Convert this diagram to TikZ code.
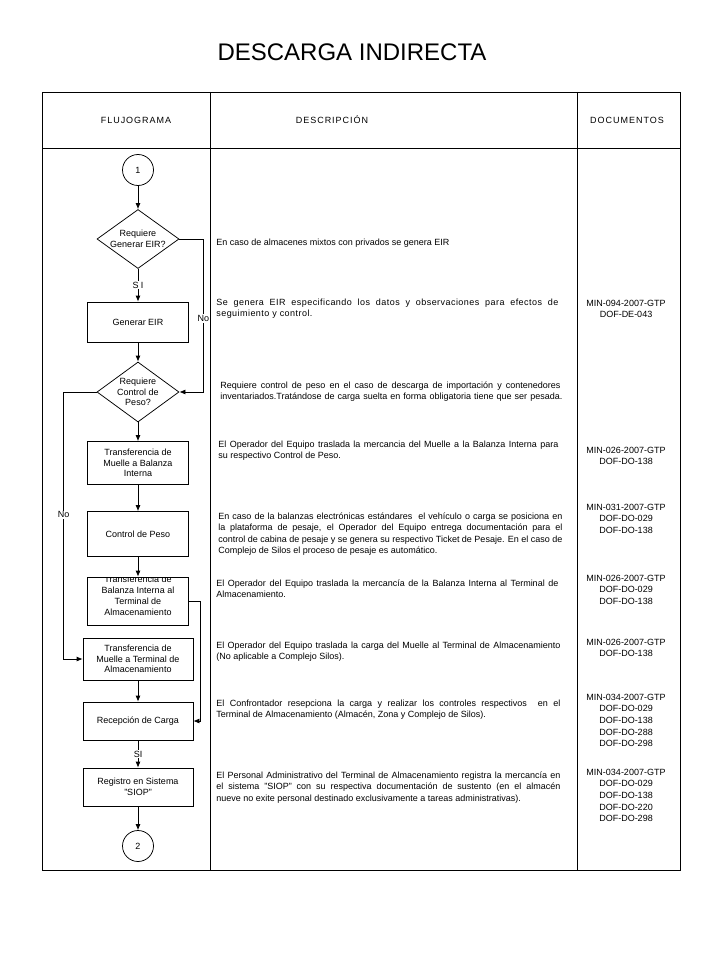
\documentclass[tikz,border=0pt]{standalone}
\usepackage{fontspec}
\setmainfont{Liberation Sans}
\newfontfamily\spacedfont[LetterSpace=5]{Liberation Sans}
\newfontfamily\headfont[LetterSpace=11]{Liberation Sans}
\usetikzlibrary{shapes.geometric,arrows.meta}
\newcommand{\fs}{\fontsize{9}{10.5}\selectfont}
\newcommand{\ds}{\fontsize{9}{11.3}\selectfont}
\newcommand{\jl}[2][344pt]{\makebox[#1][s]{#2}}
\tikzstyle{block} = [rectangle, draw, fill=white, minimum width=101pt,
    minimum height=44pt, align=center, font=\fs, inner sep=1pt]
\tikzstyle{wide} = [block, minimum width=110pt]
\tikzstyle{decision} = [diamond, draw, fill=white, minimum width=82pt,
    minimum height=59pt, inner sep=0pt]
\tikzstyle{dtext} = [align=center, font=\fs, inner sep=0pt]
\tikzstyle{conn} = [circle, draw, minimum size=31pt, inner sep=0pt, font=\fs]
\tikzstyle{line} = [draw, -{Latex[length=6pt,width=5pt]}]
\tikzstyle{tag} = [fill=white, inner sep=1pt, font=\fs]
\tikzstyle{desc} = [anchor=north west, align=left, inner sep=0pt, font=\ds]
\tikzstyle{docs} = [anchor=north, align=center, inner sep=0pt,
    font=\fontsize{9}{11.7}\selectfont]
\tikzstyle{head} = [font=\headfont\fontsize{9}{11}\selectfont]

\begin{document}
\begin{tikzpicture}[x=1pt,y=-1pt,line width=0.75pt]
    \useasboundingbox (0,0) rectangle (720,960);
    % Title and table
    \node[font=\fontsize{24}{28}\selectfont] (title) at (352,52) {DESCARGA INDIRECTA};
    \draw (42,92) rectangle (680,870);
    \draw (42,148) -- (680,148);
    \draw (210,92) -- (210,870);
    \draw (577,92) -- (577,870);
    \node[head] (hflujo) at (136,120) {FLUJOGRAMA};
    \node[head] (hdesc) at (332,120) {DESCRIPCIÓN};
    \node[head] (hdocs) at (627,120) {DOCUMENTOS};
    % Place nodes
    \node [conn] (c1) at (138,170) {1};
    \node [decision, below of=c1, node distance=69pt,
        label={[dtext]center:{Requiere\\Generar EIR?}}] (d1) {};
    \node [block, below of=d1, node distance=83pt, minimum height=40pt] (gen) {Generar EIR};
    \node [decision, below of=gen, node distance=70pt, minimum height=60pt,
        label={[dtext]center:{Requiere\\Control de\\Peso?}}] (d2) {};
    \node [block, below of=d2, node distance=71pt, minimum height=43pt] (tmb)
        {Transferencia de\\Muelle a Balanza\\Interna};
    \node [block, below of=tmb, node distance=71pt, minimum height=45pt] (cp) {Control de Peso};
    \node [block, below of=cp, node distance=67pt, minimum height=48pt,
        path picture={\node[font=\fontsize{9}{11}\selectfont, align=center, inner sep=0pt,
            draw=none, fill=none, minimum width=0pt, minimum height=0pt] (tbttext)
            at ([yshift=5pt]path picture bounding box.center)
            {Transferencia de\\Balanza Interna al\\Terminal de\\Almacenamiento};}] (tbt) {};
    \node [wide, below of=tbt, node distance=58pt, minimum height=42pt] (tmt)
        {Transferencia de\\Muelle a Terminal de\\Almacenamiento};
    \node [wide, below of=tmt, node distance=62pt, minimum height=38pt] (rec) {Recepción de Carga};
    \node [wide, below of=rec, node distance=66pt, minimum height=38pt] (reg)
        {Registro en Sistema\\"SIOP"};
    \node [conn, below of=reg, node distance=59pt] (c2) {2};
    % Draw edges
    \path [line] (c1) -- (d1);
    \path [line] (d1) -- node[tag] {S I} (gen);
    \path [line] (d1.east) -- ++(24,0) |- node[tag, pos=0.26] {No} (d2.east);
    \path [line] (gen) -- (d2);
    \path [line] (d2) -- (tmb);
    \path [line] (d2.west) -- ++(-33,0) |- node[tag, pos=0.23] {No} (tmt.west);
    \path [line] (tmb) -- (cp);
    \path [line] (cp) -- (tbt);
    \path [line] (tbt.east) -- ++(11,0) |- (rec.east);
    \path [line] (tmt) -- (rec);
    \path [line] (rec) -- node[tag] {SI} (reg);
    \path [line] (reg) -- (c2);
    % Descriptions
    \node [desc] (p1) at (216,238.5) {En caso de almacenes mixtos con privados se genera EIR};
    \node [desc, font=\spacedfont\ds] (p2) at (216,298.5)
        {\jl[342pt]{Se genera EIR especificando los datos y observaciones para efectos de}\\
        seguimiento y control.};
    \node [desc] (p3) at (220,381.5)
        {\jl[340pt]{Requiere control de peso en el caso de descarga de importación y contenedores}\\
        \jl[342pt]{inventariados.Tratándose de carga suelta en forma obligatoria tiene que ser pesada.}};
    \node [desc] (p4) at (218,440.5)
        {\jl[340pt]{El Operador del Equipo traslada la mercancia del Muelle a la Balanza Interna para}\\
        su respectivo Control de Peso.};
    \node [desc] (p5) at (218,512.5)
        {\jl{En caso de la balanzas electrónicas estándares \ el vehículo o carga se posiciona en}\\
        \jl{la plataforma de pesaje, el Operador del Equipo entrega documentación para el}\\
        \jl{control de cabina de pesaje y se genera su respectivo Ticket de Pesaje. En el caso de}\\
        Complejo de Silos el proceso de pesaje es automático.};
    \node [desc] (p6) at (216,579.5)
        {\jl[342pt]{El Operador del Equipo traslada la mercancía de la Balanza Interna al Terminal de}\\
        Almacenamiento.};
    \node [desc] (p7) at (216,641.5)
        {\jl{El Operador del Equipo traslada la carga del Muelle al Terminal de Almacenamiento}\\
        (No aplicable a Complejo Silos).};
    \node [desc] (p8) at (216,699.5)
        {\jl{El Confrontador resepciona la carga y realizar los controles respectivos \ en el}\\
        Terminal de Almacenamiento (Almacén, Zona y Complejo de Silos).};
    \node [desc] (p9) at (216,771.5)
        {\jl{El Personal Administrativo del Terminal de Almacenamiento registra la mercancía en}\\
        \jl{el sistema "SIOP" con su respectiva documentación de sustento (en el almacén}\\
        nueve no exite personal destinado exclusivamente a tareas administrativas).};
    % Documents
    \node [docs] (doc1) at (626,299.5) {MIN-094-2007-GTP\\DOF-DE-043};
    \node [docs] (doc2) at (626,446.5) {MIN-026-2007-GTP\\DOF-DO-138};
    \node [docs] (doc3) at (626,503.5) {MIN-031-2007-GTP\\DOF-DO-029\\DOF-DO-138};
    \node [docs] (doc4) at (626,574.5) {MIN-026-2007-GTP\\DOF-DO-029\\DOF-DO-138};
    \node [docs] (doc5) at (626,638.5) {MIN-026-2007-GTP\\DOF-DO-138};
    \node [docs] (doc6) at (626,693.5) {MIN-034-2007-GTP\\DOF-DO-029\\DOF-DO-138\\DOF-DO-288\\DOF-DO-298};
    \node [docs] (doc7) at (626,768.5) {MIN-034-2007-GTP\\DOF-DO-029\\DOF-DO-138\\DOF-DO-220\\DOF-DO-298};
\end{tikzpicture}
\end{document}
